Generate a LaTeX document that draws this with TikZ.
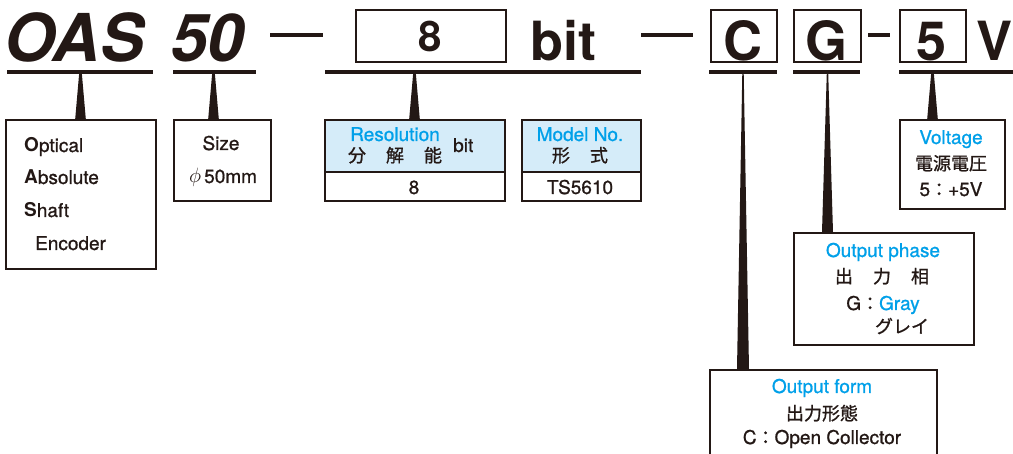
\documentclass[tikz,border=0pt]{standalone}
\usepackage{fontspec}
\setmainfont{TeX Gyre Heros}[UprightFeatures={FakeBold=0.9}]
\newfontfamily\cjk{Noto Sans CJK JP}[FakeBold=1.0]
\usetikzlibrary{calc}
\definecolor{ink}{HTML}{231815}
\definecolor{cyanT}{HTML}{00A0E9}
\definecolor{paleB}{HTML}{D5ECF9}
\newcommand\fsz[1]{\fontsize{#1}{#1}\selectfont}
\newcommand\wedgeconn[4]{\fill[ink] ($(#1)+(-#3,0)$) -- ($(#1)+(#3,0)$) -- ($(#1 |- #2.north)+(#4,0)$) -- ($(#1 |- #2.north)+(-#4,0)$) -- cycle;}
\begin{document}
\begin{tikzpicture}[x=1pt,y=-1pt,
  txt/.style={inner sep=0pt, anchor=base, text=ink, font=\fsz{19}},
  bluetxt/.style={txt, text=cyanT},
  big/.style={inner sep=0pt, anchor=base, text=ink, font=\fsz{54}\bfseries},
  infobox/.style={draw=ink, line width=1.6pt, inner sep=0pt, anchor=north west},
  codebox/.style={draw=ink, line width=1.8pt, inner sep=0pt, anchor=north west},
  uline/.style={draw=ink, line width=3.6pt},
  dashbar/.style={draw=ink, line width=4pt}]
\useasboundingbox (0,0) rectangle (1013,454);
\clip (0,0) rectangle (1013,454);
\fill[white] (0,0) rectangle (1013,454);

% ---- top code line ----
\node[inner sep=0pt, anchor=base west, text=ink, font=\fsz{66}\bfseries\itshape] (oas) at (4,62) {OAS};
\node[inner sep=0pt, anchor=base west, text=ink, font=\fsz{66}\bfseries\itshape] (fifty) at (171,62) {50};
\draw[dashbar] (270,35) -- (323,35);
\node[codebox, minimum width=150pt, minimum height=52pt] (b8) at (355,9) {};
\node[big, font=\fsz{42}\bfseries] (t8) at (430,52) {8};
\node[big, anchor=base west] (tbit) at (530,61) {bit};
\draw[dashbar] (641,35) -- (693,35);
\node[codebox, minimum width=66pt, minimum height=52pt] (bC) at (710,9) {};
\node[big] (tC) at (743,61) {C};
\node[codebox, minimum width=67pt, minimum height=52pt] (bG) at (793,9) {};
\node[big] (tG) at (826.5,61) {G};
\draw[dashbar] (868,35) -- (890,35);
\node[codebox, minimum width=66pt, minimum height=52pt] (b5) at (899,9) {};
\node[big] (t5) at (932,61) {5};
\node[big, anchor=base west] (tV) at (976,61) {V};

% ---- underlines ----
\draw[uline] (7,72) -- (153,72);
\draw[uline] (173,72) -- (256,72);
\draw[uline] (325,72) -- (641,72);
\draw[uline] (709,72) -- (777,72);
\draw[uline] (793,72) -- (860,72);
\draw[uline] (899,72) -- (1013,72);
\coordinate (uOAS) at (80.5,73);
\coordinate (uSize) at (213.5,73);
\coordinate (uRes) at (414.5,73);
\coordinate (uC) at (743,73);
\coordinate (uG) at (827.5,73);
\coordinate (uV) at (932.5,73);

% ---- boxes ----
\node[infobox, minimum width=150pt, minimum height=149pt] (oasbox) at (5,119) {};
\node[infobox, minimum width=97pt, minimum height=81pt] (sizebox) at (173,119) {};
\node[infobox, fill=paleB, minimum width=180pt, minimum height=52pt] (restop) at (324,119) {};
\node[infobox, minimum width=180pt, minimum height=29pt] (resbot) at (324,171) {};
\node[infobox, fill=paleB, minimum width=119pt, minimum height=52pt] (modtop) at (521,119) {};
\node[infobox, minimum width=119pt, minimum height=29pt] (modbot) at (521,171) {};
\node[infobox, minimum width=105pt, minimum height=89pt] (voltbox) at (899,119) {};
\node[infobox, minimum width=180pt, minimum height=112pt] (phasebox) at (793,232) {};
\node[infobox, minimum width=227pt, minimum height=110pt] (formbox) at (709,369) {};

% ---- connectors ----
\wedgeconn{uOAS}{oasbox}{1.3}{5.3}
\wedgeconn{uSize}{sizebox}{1.3}{5.3}
\wedgeconn{uRes}{restop}{1.3}{5.3}
\wedgeconn{uC}{formbox}{0.7}{6}
\wedgeconn{uG}{phasebox}{0.7}{5.5}
\wedgeconn{uV}{voltbox}{1.3}{5.3}

% ---- box texts ----
\node[txt, anchor=base west] (o1) at (24,152) {{\bfseries O}ptical};
\node[txt, anchor=base west] (o2) at (24,184) {{\bfseries A}bsolute};
\node[txt, anchor=base west] (o3) at (24,217) {{\bfseries S}haft};
\node[txt, anchor=base west] (o4) at (35,250) {Encoder};

\node[txt] (s1) at (221,150) {Size};
\node[txt] (s2) at (223,183) {{\fsz{22}$\phi$}\,50mm};

\node[bluetxt] (r1) at (395,141) {Resolution};
\node[txt, font=\fsz{18}\cjk] (r2) at (395,162) {分\hspace{20pt}解\hspace{20pt}能};
\node[txt, anchor=base west] (r3) at (453,152) {bit};
\node[txt] (r4) at (414,194) {8};

\node[bluetxt] (m1) at (580,141) {Model No.};
\node[txt, font=\fsz{18}\cjk] (m2) at (580,162) {形\hspace{20pt}式};
\node[txt] (m3) at (580,194) {TS5610};

\node[bluetxt] (v1) at (951,144) {Voltage};
\node[txt, font=\fsz{18}\cjk] (v2) at (951,170) {電源電圧};
\node[txt] (v3) at (951,196) {5{\cjk\fsz{18}：}+5V};

\node[bluetxt] (p1) at (883,257) {Output phase};
\node[txt, font=\fsz{18}\cjk] (p2) at (882,283) {出\hspace{20pt}力\hspace{20pt}相};
\node[txt] (p3) at (883,310) {G{\cjk\fsz{18}：}\textcolor{cyanT}{Gray}};
\node[txt, font=\fsz{18}\cjk] (p4) at (902,333) {グレイ};

\node[bluetxt] (f1) at (822,393) {Output form};
\node[txt, font=\fsz{18}\cjk] (f2) at (822,420) {出力形態};
\node[txt] (f3) at (822,444) {C{\cjk\fsz{18}：}Open Collector};
\end{tikzpicture}
\end{document}
